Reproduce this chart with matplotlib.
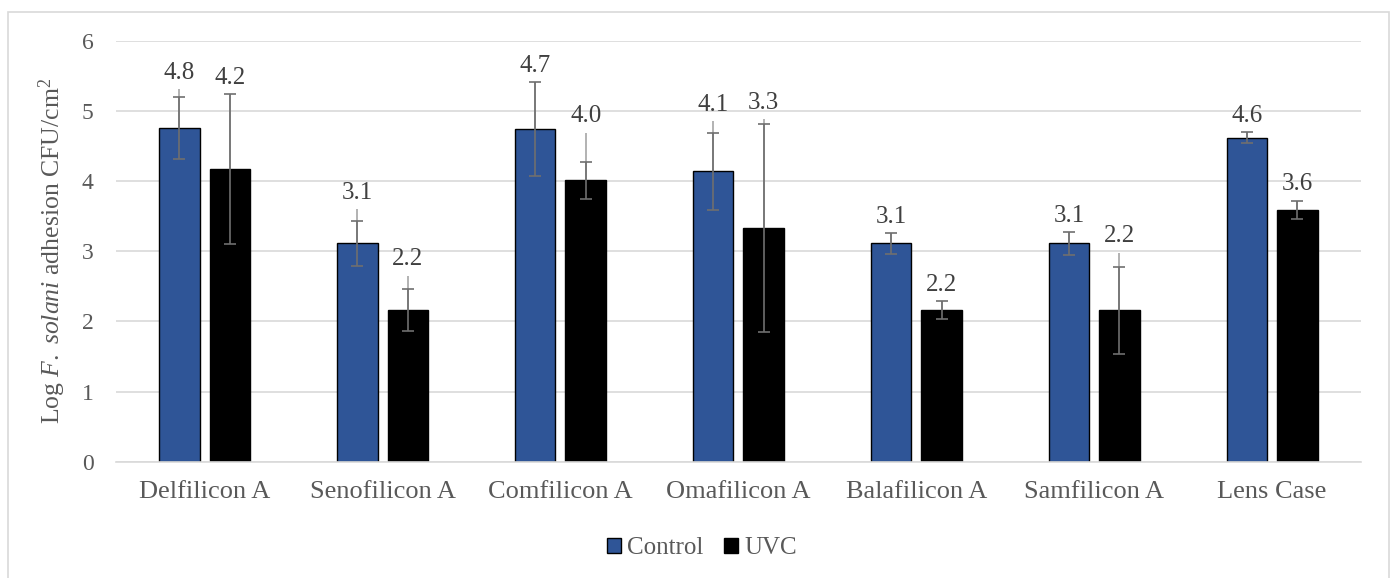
import matplotlib.pyplot as plt
import numpy as np
from matplotlib.patches import Rectangle

plt.rcParams['font.family'] = ['Liberation Serif', 'DejaVu Serif']
plt.rcParams['mathtext.fontset'] = 'custom'
plt.rcParams['mathtext.rm'] = 'Liberation Serif'
plt.rcParams['mathtext.it'] = 'Liberation Serif:italic'

categories = ['Delfilicon A', 'Senofilicon A', 'Comfilicon A', 'Omafilicon A',
              'Balafilicon A', 'Samfilicon A', 'Lens Case']
control = [4.76, 3.11, 4.74, 4.14, 3.11, 3.11, 4.62]
uvc = [4.17, 2.16, 4.01, 3.33, 2.16, 2.16, 3.59]
# error bar with caps (symmetric)
control_err = [0.44, 0.32, 0.67, 0.55, 0.15, 0.16, 0.08]
uvc_err = [1.07, 0.30, 0.26, 1.48, 0.13, 0.62, 0.13]
# second error line (upper only, no caps)
control_up = [0.55, 0.49, 0.67, 0.71, 0.15, 0.16, 0.08]
uvc_up = [1.07, 0.49, 0.68, 1.55, 0.13, 0.82, 0.13]

blue = '#2F5597'
grey_txt = '#595959'

fig = plt.figure(figsize=(13.94, 5.78), dpi=100)
ax = fig.add_axes([115.7 / 1394, 1 - 461.7 / 578, (1361 - 115.7) / 1394, 421 / 578])

x = np.arange(len(categories))
w = 0.228
off = 0.142

ax.bar(x - off, control, w, color=blue, edgecolor='black', linewidth=1, label='Control', zorder=2)
ax.bar(x + off, uvc, w, color='black', edgecolor='black', linewidth=1, label='UVC', zorder=2)

for xs, vals, up in [(x - off, control, control_up), (x + off, uvc, uvc_up)]:
    ax.errorbar(xs, vals, yerr=[np.zeros(len(vals)), up], fmt='none',
                ecolor='#a6a6a6', elinewidth=1.2, capsize=0, zorder=3)
for xs, vals, err in [(x - off, control, control_err), (x + off, uvc, uvc_err)]:
    ax.errorbar(xs, vals, yerr=err, fmt='none', ecolor='#6f6f6f',
                elinewidth=1.2, capsize=4.5, capthick=1.2, zorder=4)

for xs, vals, err, up in [(x - off, control, control_err, control_up),
                          (x + off, uvc, uvc_err, uvc_up)]:
    for xi, v, e, u in zip(xs, vals, err, up):
        top = v + max(e, u)
        ax.annotate('%.1f' % v, (xi, top), xytext=(0, 7.5), textcoords='offset points',
                    ha='center', va='baseline', fontsize=18, color='#404040')

ax.set_xlim(-0.5, len(categories) - 0.5)
ax.set_ylim(0, 6)
ax.set_yticks(range(0, 7))
ax.yaxis.grid(True, color='#d9d9d9', linewidth=1.2, zorder=0)
ax.set_axisbelow(True)
for s in ['top', 'right', 'left']:
    ax.spines[s].set_visible(False)
ax.spines['bottom'].set_color('#d9d9d9')
ax.spines['bottom'].set_linewidth(1.2)
ax.tick_params(axis='both', length=0, colors=grey_txt)
ax.tick_params(axis='y', pad=16, labelsize=17)
ax.tick_params(axis='x', pad=14, labelsize=19)
ax.set_xticks(x)
ax.set_xticklabels(categories)

ax.set_ylabel(r'Log $\mathit{F.\ solani}$ adhesion CFU/cm$^{2}$', fontsize=18.5, color=grey_txt)
ax.yaxis.set_label_coords((68 - 115.7) / (1361 - 115.7), 0.5)

ax.legend(loc='center', bbox_to_anchor=((702 - 115.7) / (1361 - 115.7), -0.205), ncol=2,
          frameon=False, fontsize=18, handlelength=0.56, handleheight=0.56,
          handletextpad=0.25, columnspacing=0.8, labelcolor=grey_txt)

fig.patches.append(Rectangle((8 / 1394, -0.05), (1389 - 8) / 1394, 1 - 12 / 578 + 0.05,
                             transform=fig.transFigure, fill=False, edgecolor='#d9d9d9',
                             linewidth=1.2))

fig.savefig('out.png', dpi=100)
